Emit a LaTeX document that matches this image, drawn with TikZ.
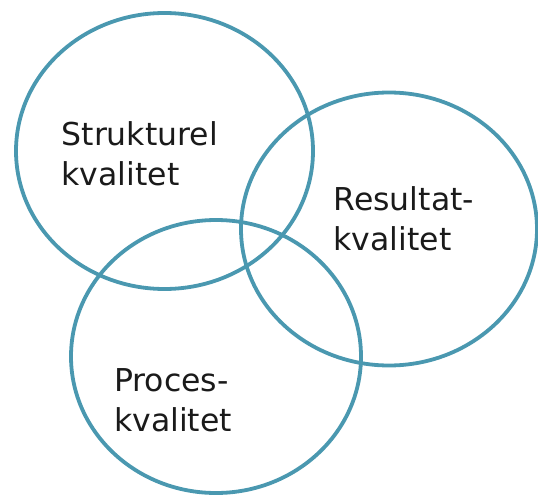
\documentclass[tikz,border=0pt]{standalone}
\usepackage{fontspec}
\setmainfont{DejaVu Sans}
\definecolor{ring}{RGB}{74,152,176}
\definecolor{ink}{RGB}{26,26,26}
\tikzset{
  ring/.style={draw=ring, line width=3.8pt},
  lbl/.style={anchor=base west, align=left, inner sep=0pt, text=ink,
    font=\fontsize{31.5}{39.5}\selectfont}
}
\begin{document}
\begin{tikzpicture}[x=1pt,y=-1pt]
\useasboundingbox (0,0) rectangle (538,495);
\begin{scope}
\clip (0,0) rectangle (538,495);
\draw[ring] (164.5,151) ellipse [x radius=148.5, y radius=138];
\draw[ring] (389,229) ellipse [x radius=148, y radius=136.5];
\draw[ring] (216,356.5) ellipse [x radius=145, y radius=136.5];
\end{scope}
\node[lbl] (s) at (61.5,185) {Strukturel\\kvalitet};
\node[lbl] (r) at (333.5,250) {Resultat-\\kvalitet};
\node[lbl] (p) at (114,431) {Proces-\\kvalitet};
\end{tikzpicture}
\end{document}
